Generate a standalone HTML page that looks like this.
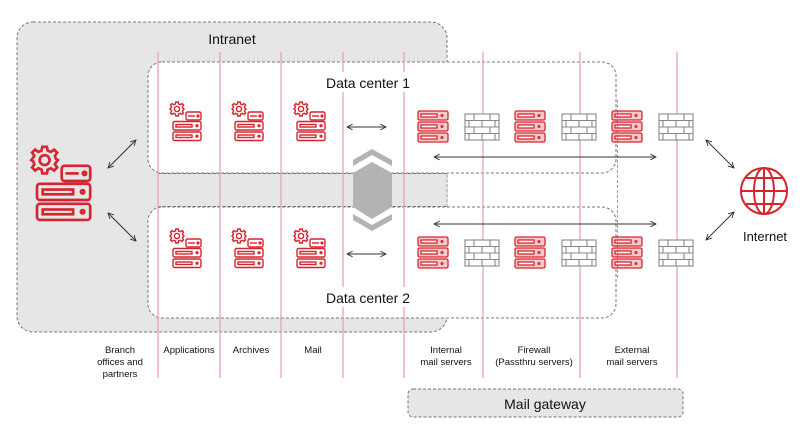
<!DOCTYPE html>
<html><head><meta charset="utf-8"><style>
html,body{margin:0;padding:0;background:#fff}
svg{display:block}
text{font-family:"Liberation Sans",sans-serif;fill:#111}
</style></head><body>
<svg width="805" height="442" viewBox="0 0 805 442" xmlns="http://www.w3.org/2000/svg">
<defs>
<g id="gear" fill="none" stroke="#d6252f" stroke-width="1.4">
<circle cx="0" cy="0" r="2.6"/>
<path d="M-1.2,-7 L1.2,-7 L1.6,-5 L3.3,-4.3 L5,-5.5 L6.6,-3.9 L5.4,-2.2 L6,-0.6 L7,0 L6,1.3 L5.4,2.2 L6.6,3.9 L5,5.5 L3.3,4.3 L1.6,5 L1.2,7 L-1.2,7 L-1.6,5 L-3.3,4.3 L-5,5.5 L-6.6,3.9 L-5.4,2.2 L-6,0.6 L-7,0 L-6,-1.3 L-5.4,-2.2 L-6.6,-3.9 L-5,-5.5 L-3.3,-4.3 L-1.6,-5 Z"/>
</g>
<g id="gsrv" fill="none" stroke="#d6252f" stroke-width="1.4">
<use href="#gear" x="4" y="9"/>
<rect x="13" y="12" width="15" height="8" rx="1.5"/>
<line x1="15" y1="16" x2="22" y2="16"/><circle cx="25" cy="16" r="0.9"/>
<rect x="0" y="21.5" width="28" height="8.5" rx="1.5"/>
<rect x="3" y="24.5" width="16" height="2.5"/><circle cx="24" cy="25.7" r="0.9"/>
<rect x="0" y="32" width="28" height="8.5" rx="1.5"/>
<rect x="3" y="35" width="16" height="2.5"/><circle cx="24" cy="36.2" r="0.9"/>
</g>
<g id="srv" stroke="#d6252f" stroke-width="1.3">
<rect x="0" y="0" width="30" height="9" rx="1.5" fill="#f3c9cb"/>
<rect x="3" y="3" width="16" height="3" fill="#fff"/><circle cx="24" cy="4.5" r="0.9" fill="#fff"/>
<rect x="0" y="11" width="30" height="9" rx="1.5" fill="#f3c9cb"/>
<rect x="3" y="14" width="16" height="3" fill="#fff"/><circle cx="24" cy="15.5" r="0.9" fill="#fff"/>
<rect x="0" y="22" width="30" height="9" rx="1.5" fill="#f3c9cb"/>
<rect x="3" y="25" width="16" height="3" fill="#fff"/><circle cx="24" cy="26.5" r="0.9" fill="#fff"/>
</g>
<g id="fw" fill="#fff" stroke="#888" stroke-width="1.1">
<rect x="0" y="0" width="34" height="26"/>
<path d="M0,6.5H34M0,13H34M0,19.5H34M9,0V6.5M25,0V6.5M4,6.5V13M17,6.5V13M30,6.5V13M9,13V19.5M25,13V19.5M4,19.5V26M17,19.5V26M30,19.5V26"/>
</g>
<marker id="ah" viewBox="0 0 10 10" refX="9" refY="5" markerWidth="7" markerHeight="7" orient="auto-start-reverse">
<path d="M1,1 L9,5 L1,9" fill="none" stroke="#333" stroke-width="1.3"/>
</marker>
</defs>

<!-- Intranet -->
<rect x="17" y="22" width="430" height="310" rx="16" fill="#e6e6e6" stroke="#777" stroke-width="1" stroke-dasharray="3,2"/>
<!-- DC boxes -->
<rect x="148" y="62" width="468" height="111" rx="14" fill="#fff" stroke="#777" stroke-width="1" stroke-dasharray="3,2"/>
<rect x="148" y="207" width="468" height="111" rx="14" fill="#fff" stroke="#777" stroke-width="1" stroke-dasharray="3,2"/>
<rect x="158" y="174" width="289" height="32" fill="#e6e6e6"/>
<line x1="158" y1="173.5" x2="447" y2="173.5" stroke="#777" stroke-dasharray="3,2"/>
<line x1="158" y1="206.5" x2="447" y2="206.5" stroke="#777" stroke-dasharray="3,2"/>
<line x1="447" y1="174" x2="447" y2="206" stroke="#999" stroke-dasharray="3,2"/>

<!-- vertical red lines -->
<g stroke="#e9a6aa" stroke-width="1.3">
<line x1="158" y1="52" x2="158" y2="378"/>
<line x1="220" y1="52" x2="220" y2="378"/>
<line x1="281" y1="52" x2="281" y2="378"/>
<line x1="343" y1="52" x2="343" y2="378"/>
<line x1="404" y1="52" x2="404" y2="378"/>
<line x1="483" y1="52" x2="483" y2="378"/>
<line x1="580" y1="52" x2="580" y2="378"/>
<line x1="677" y1="52" x2="677" y2="378"/>
</g>
<!-- cover lines inside labels -->
<rect x="300" y="72" width="130" height="20" fill="#fff"/>
<rect x="300" y="287" width="130" height="20" fill="#fff"/>
<text x="368" y="88" font-size="14" text-anchor="middle">Data center 1</text>
<text x="368" y="303" font-size="14" text-anchor="middle">Data center 2</text>
<text x="232" y="44" font-size="14" text-anchor="middle">Intranet</text>

<!-- hexagon -->
<g fill="#b3b3b3">
<polygon points="372,162 392,173 392,207 372,219 353,207 353,173"/>
<polygon points="372,149 392,160 392,166 372,155 353,166 353,160"/>
<polygon points="372,231 392,220 392,214 372,225 353,214 353,220"/>
</g>

<!-- icons -->
<use href="#gsrv" x="173" y="100"/><use href="#gsrv" x="235" y="100"/><use href="#gsrv" x="297" y="100"/>
<use href="#gsrv" x="173" y="227"/><use href="#gsrv" x="235" y="227"/><use href="#gsrv" x="297" y="227"/>
<use href="#gsrv" transform="translate(37,143) scale(1.9)"/>
<use href="#srv" x="418" y="111"/><use href="#srv" x="515" y="111"/><use href="#srv" x="612" y="111"/>
<use href="#srv" x="418" y="237"/><use href="#srv" x="515" y="237"/><use href="#srv" x="612" y="237"/>
<use href="#fw" x="465" y="114"/><use href="#fw" x="562" y="114"/><use href="#fw" x="659" y="114"/>
<use href="#fw" x="465" y="240"/><use href="#fw" x="562" y="240"/><use href="#fw" x="659" y="240"/>
<line x1="617.5" y1="100" x2="617.5" y2="280" stroke="#555" stroke-dasharray="3,2" stroke-width="0.8" opacity="0.7"/>

<!-- globe -->
<g fill="none" stroke="#d6252f" stroke-width="2">
<circle cx="764" cy="191" r="23"/>
<ellipse cx="764" cy="191" rx="10" ry="23"/>
<line x1="764" y1="168" x2="764" y2="214"/>
<line x1="741" y1="191" x2="787" y2="191"/>
<path d="M746,178 H782 M746,204 H782"/>
</g>
<text x="765" y="241" font-size="13" text-anchor="middle">Internet</text>

<!-- arrows -->
<g stroke="#333" stroke-width="1" fill="none">
<line x1="347" y1="127" x2="386" y2="127" marker-start="url(#ah)" marker-end="url(#ah)"/>
<line x1="347" y1="254" x2="386" y2="254" marker-start="url(#ah)" marker-end="url(#ah)"/>
<line x1="434" y1="157" x2="656" y2="157" marker-start="url(#ah)" marker-end="url(#ah)"/>
<line x1="434" y1="224" x2="656" y2="224" marker-start="url(#ah)" marker-end="url(#ah)"/>
<line x1="108" y1="168" x2="136" y2="140" marker-start="url(#ah)" marker-end="url(#ah)"/>
<line x1="108" y1="213" x2="136" y2="241" marker-start="url(#ah)" marker-end="url(#ah)"/>
<line x1="706" y1="140" x2="734" y2="168" marker-start="url(#ah)" marker-end="url(#ah)"/>
<line x1="706" y1="240" x2="734" y2="212" marker-start="url(#ah)" marker-end="url(#ah)"/>
</g>

<!-- labels -->
<g font-size="9.5" text-anchor="middle">
<text x="120" y="353">Branch</text><text x="120" y="365">offices and</text><text x="120" y="377">partners</text>
<text x="189" y="353">Applications</text>
<text x="251" y="353">Archives</text>
<text x="313" y="353">Mail</text>
<text x="446" y="353">Internal</text><text x="446" y="365">mail servers</text>
<text x="534" y="353">Firewall</text><text x="534" y="365">(Passthru servers)</text>
<text x="632" y="353">External</text><text x="632" y="365">mail servers</text>
</g>
<rect x="408" y="389" width="275" height="28" rx="5" fill="#e6e6e6" stroke="#777" stroke-dasharray="3,2"/>
<text x="545" y="409" font-size="14" text-anchor="middle">Mail gateway</text>
</svg>
</body></html>
